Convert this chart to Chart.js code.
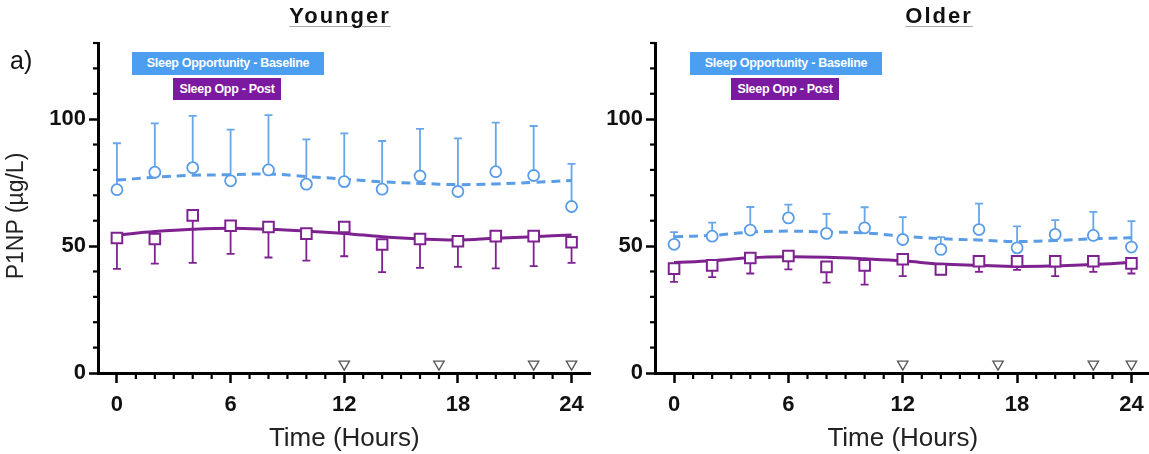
<!DOCTYPE html>
<html><head><meta charset="utf-8">
<script src="https://cdn.jsdelivr.net/npm/chart.js@4.4.0/dist/chart.umd.min.js"></script>
<style>
html,body{margin:0;padding:0;background:#fff;width:1149px;height:454px;overflow:hidden;position:relative;font-family:"Liberation Sans",Arial,sans-serif;}
canvas{position:absolute;top:0;}
.title{position:absolute;top:3px;font-weight:bold;font-size:22px;letter-spacing:2px;text-decoration:underline;text-decoration-color:#aaa;text-decoration-thickness:1px;text-underline-offset:3px;color:#111;transform:translateX(-50%);white-space:nowrap;}
.leg{position:absolute;color:#fff;font-weight:bold;font-size:12.5px;text-align:center;white-space:nowrap;letter-spacing:-0.3px;}
.blue{background:#4b9ef0;height:23px;line-height:23px;top:52px;width:192px;}
.purp{background:#7b1aa0;height:22px;line-height:22px;top:78px;width:108px;}
#alab{position:absolute;left:10px;top:46px;font-size:25px;color:#111;}
#ytitle{position:absolute;left:15px;top:216px;transform:translate(-50%,-50%) rotate(-90deg);font-size:23px;color:#222;white-space:nowrap;}
</style></head>
<body>
<canvas id="cy" width="600" height="454" style="left:0"></canvas>
<canvas id="co" width="560" height="454" style="left:600px"></canvas>
<div class="title" style="left:340px">Younger</div>
<div class="title" style="left:939px">Older</div>
<div id="alab">a)</div>
<div id="ytitle">P1NP (µg/L)</div>
<div class="leg blue" style="left:132px">Sleep Opportunity - Baseline</div>
<div class="leg purp" style="left:173px">Sleep Opp - Post</div>
<div class="leg blue" style="left:690px">Sleep Opportunity - Baseline</div>
<div class="leg purp" style="left:731px">Sleep Opp - Post</div>
<script>
// ---- data ----
const times = [0, 2, 4, 6, 8, 10, 12, 14, 16, 18, 20, 22, 24];
const xTickLabels = [0, 6, 12, 18, 24];
const yTickLabels = [0, 50, 100];
const markerTimes = [12, 17, 22, 24];
const markerLevel = 3.5;

// Younger
const youngBaseMean = [72.2, 79.1, 80.9, 75.7, 80.0, 74.4, 75.4, 72.4, 77.6, 71.5, 79.3, 77.8, 65.6];
const youngBaseErr  = [18.3, 19.2, 20.4, 20.2, 21.6, 17.6, 19.0, 19.0, 18.6, 20.9, 19.3, 19.5, 16.8];
const youngBaseFit  = [76.0, 77.1, 77.9, 78.1, 78.4, 77.4, 76.4, 75.3, 74.7, 74.2, 74.5, 75.1, 75.8];
const youngPostMean = [53.2, 52.8, 62.1, 58.0, 57.5, 54.9, 57.5, 50.6, 52.8, 51.9, 53.9, 53.9, 51.5];
const youngPostErr  = [12.2, 9.7, 18.7, 11.1, 12.0, 10.6, 11.5, 10.9, 11.4, 10.1, 12.7, 11.8, 8.1];
const youngPostFit  = [54.4, 55.7, 56.6, 57.0, 56.6, 55.9, 55.0, 53.7, 52.8, 52.4, 53.1, 53.7, 54.4];

// Older
const oldBaseMean = [50.7, 53.9, 56.3, 61.1, 55.0, 57.2, 52.6, 48.7, 56.5, 49.3, 54.6, 54.2, 49.6];
const oldBaseErr  = [4.8, 5.3, 9.1, 5.2, 7.7, 8.1, 8.8, 4.8, 10.2, 8.5, 5.6, 9.3, 10.2];
const oldBaseFit  = [53.7, 54.2, 55.5, 55.9, 55.5, 55.2, 53.9, 52.9, 52.4, 51.8, 52.2, 52.9, 53.3];
const oldPostMean = [41.1, 42.4, 45.3, 46.1, 41.8, 42.4, 44.8, 40.8, 44.0, 44.0, 44.0, 44.0, 43.2];
const oldPostErr  = [5.2, 4.6, 6.1, 5.3, 6.2, 7.6, 6.6, 1.9, 4.2, 3.4, 5.8, 4.2, 4.0];
const oldPostFit  = [43.5, 44.2, 45.4, 45.8, 45.6, 45.0, 44.2, 42.9, 42.4, 42.0, 42.2, 42.7, 43.5];

// ---- styles ----
const BLUE = '#5a9de6';
const PURPLE = '#7e2290';
const FONT = '"Liberation Sans", Arial, sans-serif';

const pts = (xs, ys) => xs.map((x, i) => ({x: x, y: ys[i]}));

const errorBars = {
  id: 'errorBars',
  beforeDatasetsDraw(chart) {
    const {ctx, scales: {x, y}} = chart;
    chart.data.datasets.forEach((ds) => {
      if (!ds.errors) return;
      ctx.save();
      ctx.strokeStyle = ds.errorColor;
      ctx.lineWidth = 1.8;
      ds.data.forEach((p, j) => {
        const px = x.getPixelForValue(p.x);
        const py = y.getPixelForValue(p.y);
        const ey = y.getPixelForValue(p.y + ds.errorDir * ds.errors[j]);
        ctx.beginPath();
        ctx.moveTo(px, py); ctx.lineTo(px, ey);
        ctx.moveTo(px - 4, ey); ctx.lineTo(px + 4, ey);
        ctx.stroke();
      });
      ctx.restore();
    });
  }
};

const minorTicks = {
  id: 'minorTicks',
  afterDraw(chart) {
    const {ctx, scales: {x, y}, chartArea: a} = chart;
    ctx.save();
    ctx.strokeStyle = '#000';
    ctx.lineWidth = 2.2;
    x.ticks.forEach(t => {
      if (t.value < 0 || t.value > 24 || xTickLabels.includes(t.value)) return;
      const px = x.getPixelForValue(t.value);
      ctx.beginPath(); ctx.moveTo(px, a.bottom); ctx.lineTo(px, a.bottom + 6); ctx.stroke();
    });
    y.ticks.forEach(t => {
      if (yTickLabels.includes(t.value)) return;
      const py = y.getPixelForValue(t.value);
      ctx.beginPath(); ctx.moveTo(a.left, py); ctx.lineTo(a.left - 5, py); ctx.stroke();
    });
    ctx.restore();
  }
};

function makeChart(id, baseMean, baseErr, baseFit, postMean, postErr, postFit, yWidth, padRight) {
  return new Chart(document.getElementById(id), {
    type: 'line',
    data: {
      datasets: [
        {data: pts(times, baseMean), errors: baseErr, errorDir: 1, errorColor: '#68a6ea',
         showLine: false, pointStyle: 'circle', pointRadius: 5.5, pointBorderWidth: 1.8,
         pointBackgroundColor: '#fff', pointBorderColor: BLUE, order: 0},
        {data: pts(times, postMean), errors: postErr, errorDir: -1, errorColor: PURPLE,
         showLine: false, pointStyle: 'rect', pointRadius: 7.5, pointBorderWidth: 2,
         pointBackgroundColor: '#fff', pointBorderColor: PURPLE, order: 0},
        {data: pts(times, baseFit), borderColor: BLUE, borderWidth: 3, borderDash: [9, 6],
         pointRadius: 0, tension: 0.4, fill: false, order: 1},
        {data: pts(times, postFit), borderColor: PURPLE, borderWidth: 3,
         pointRadius: 0, tension: 0.4, fill: false, order: 1},
        {data: markerTimes.map(t => ({x: t, y: markerLevel})), showLine: false,
         pointStyle: 'triangle', rotation: 180, pointRadius: 6, pointBorderWidth: 1.3,
         pointBackgroundColor: '#fff', pointBorderColor: '#555', order: 0}
      ]
    },
    options: {
      responsive: false,
      animation: false,
      events: [],
      layout: {padding: {top: 43, right: padRight, left: 0, bottom: 0}},
      plugins: {legend: {display: false}, tooltip: {enabled: false}, title: {display: false}},
      scales: {
        x: {
          type: 'linear', min: -1, max: 25,
          afterFit(s) { s.height = 81; },
          border: {display: true, width: 3, color: '#000'},
          grid: {drawOnChartArea: false, tickLength: 10, tickWidth: 2.5,
                 tickColor: c => (c.tick && xTickLabels.includes(c.tick.value)) ? '#000' : 'rgba(0,0,0,0)'},
          ticks: {stepSize: 1, autoSkip: false, maxRotation: 0, padding: 9, color: '#111',
                  font: {family: FONT, size: 22, weight: 'bold'},
                  callback: v => xTickLabels.includes(v) ? String(v) : ''},
          title: {display: true, text: 'Time (Hours)', color: '#222',
                  font: {family: FONT, size: 26}, padding: {top: 0, bottom: 0}}
        },
        y: {
          min: 0, max: 130,
          afterFit(s) { s.width = yWidth; },
          border: {display: true, width: 3, color: '#000'},
          grid: {drawOnChartArea: false, tickLength: 9, tickWidth: 2.5,
                 tickColor: c => (c.tick && yTickLabels.includes(c.tick.value)) ? '#000' : 'rgba(0,0,0,0)'},
          ticks: {stepSize: 10, autoSkip: false, padding: 3, color: '#111',
                  font: {family: FONT, size: 22, weight: 'bold'},
                  callback: v => yTickLabels.includes(v) ? String(v) : ''}
        }
      }
    },
    plugins: [errorBars, minorTicks]
  });
}

makeChart('cy', youngBaseMean, youngBaseErr, youngBaseFit, youngPostMean, youngPostErr, youngPostFit, 98, 4);
makeChart('co', oldBaseMean, oldBaseErr, oldBaseFit, oldPostMean, oldPostErr, oldPostFit, 55, 7);
</script>
</body></html>
